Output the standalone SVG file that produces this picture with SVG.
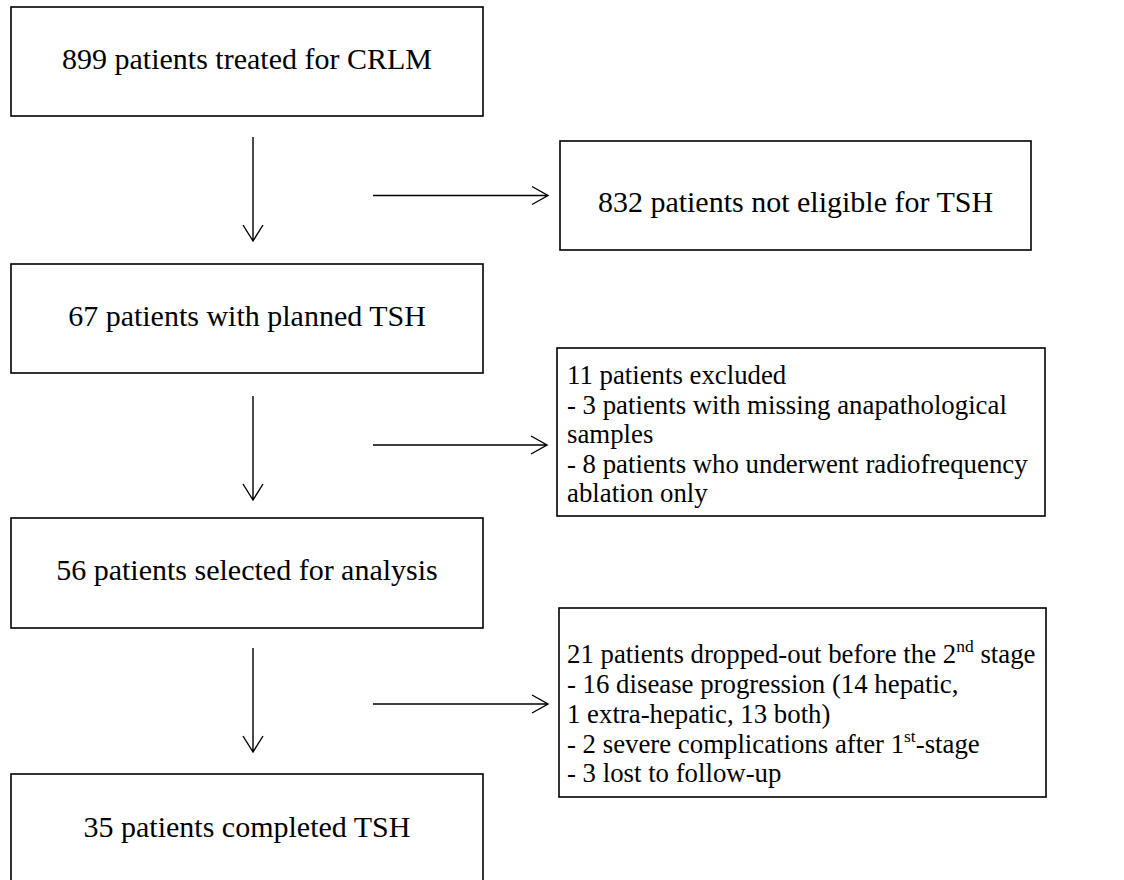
<svg xmlns="http://www.w3.org/2000/svg" width="1124" height="880" viewBox="0 0 1124 880">
<style>
.box{fill:#fff;stroke:#000;stroke-width:1.6}
.t{font-family:'Liberation Serif','Times New Roman',serif;font-size:30px;fill:#000}
.s{font-family:'Liberation Serif','Times New Roman',serif;font-size:26.8px;fill:#000}
.c{text-anchor:middle}
.ln{fill:none;stroke:#000;stroke-width:1.4}
</style>
<rect width="1124" height="880" fill="#fff"/>
<g id="n1"><rect class="box" x="11" y="7" width="472" height="109"/><text class="t c" x="247" y="69">899 patients treated for CRLM</text></g>
<g id="n2"><rect class="box" x="560" y="141" width="471" height="109"/><text class="t c" x="795.5" y="212">832 patients not eligible for TSH</text></g>
<g id="n3"><rect class="box" x="11" y="264" width="472" height="109"/><text class="t c" x="247" y="326">67 patients with planned TSH</text></g>
<g id="n4"><rect class="box" x="557" y="348" width="488" height="168"/>
<text class="s" x="567" y="384">11 patients excluded</text>
<text class="s" x="567" y="413.5">- 3 patients with missing anapathological</text>
<text class="s" x="567" y="443">samples</text>
<text class="s" x="567" y="472.5">- 8 patients who underwent radiofrequency</text>
<text class="s" x="567" y="502">ablation only</text></g>
<g id="n5"><rect class="box" x="11" y="518" width="472" height="110"/><text class="t c" x="247" y="580">56 patients selected for analysis</text></g>
<g id="n6"><rect class="box" x="559" y="608" width="487" height="189"/>
<text class="s" x="567" y="663">21 patients dropped-out before the 2<tspan font-size="17.5" dy="-11">nd</tspan><tspan dy="11"> stage</tspan></text>
<text class="s" x="567" y="692.8">- 16 disease progression (14 hepatic,</text>
<text class="s" x="567" y="722.6">1 extra-hepatic, 13 both)</text>
<text class="s" x="567" y="752.6">- 2 severe complications after 1<tspan font-size="17.5" dy="-11">st</tspan><tspan dy="11">-stage</tspan></text>
<text class="s" x="567" y="782.4">- 3 lost to follow-up</text></g>
<g id="n7"><rect class="box" x="11" y="774" width="472" height="112"/><text class="t c" x="247" y="837">35 patients completed TSH</text></g>
<g id="connectors">
<path class="ln" d="M253,137V241M243,225L253,241L263,225"/>
<path class="ln" d="M253,396V500M243,484L253,500L263,484"/>
<path class="ln" d="M253,648V752M243,736L253,752L263,736"/>
<path class="ln" d="M373,195.5H548M532,186.5L548,195.5L532,204.5"/>
<path class="ln" d="M373,445H547M531,436L547,445L531,454"/>
<path class="ln" d="M373,704H548M532,695L548,704L532,713"/>
</g>
</svg>
